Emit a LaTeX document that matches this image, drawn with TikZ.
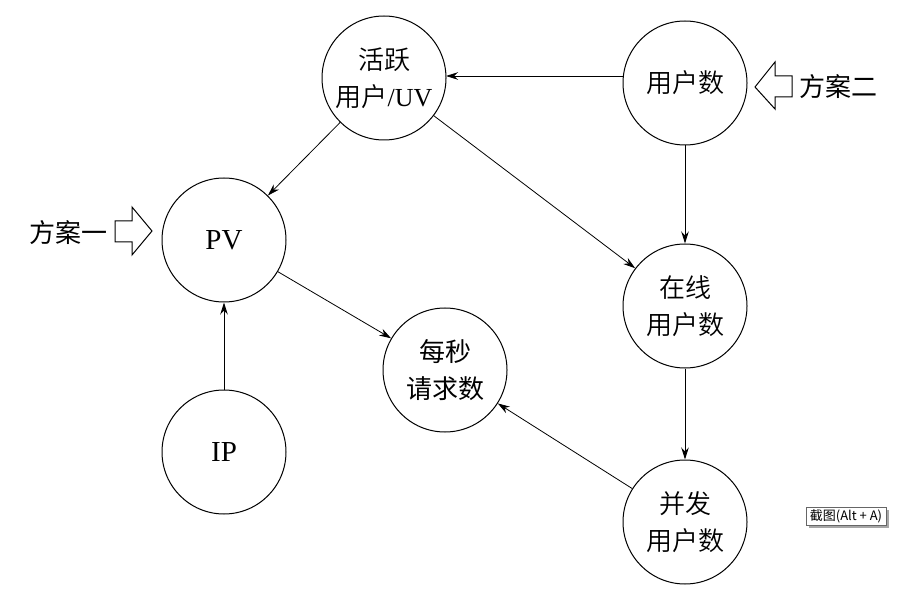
\documentclass[tikz,border=0pt]{standalone}
\usepackage{fontspec}
\setmainfont{Liberation Serif}
\newfontfamily\cjk{Noto Sans CJK SC}
\newfontfamily\cjklight{Noto Sans CJK SC DemiLight}
\newfontfamily\uisans{Noto Sans CJK SC}
\usetikzlibrary{arrows.meta}
\begin{document}
\begin{tikzpicture}[x=1pt,y=-1pt,
  circ/.style={draw,circle,minimum size=124pt,inner sep=0pt,line width=1pt,align=center,font=\fontsize{26}{37}\selectfont},
  conn/.style={line width=0.8pt,-{Stealth[length=12pt,width=7.5pt]}},
  hollow/.style={draw,line width=1pt,fill=white},
  lab/.style={font=\cjk\fontsize{26}{30}\selectfont,inner sep=0pt}]
\useasboundingbox (0,0) rectangle (923,601);
\node[circ] (uv) at (384,78) {{\cjklight 活跃}\\{\cjklight 用户}/UV};
\node[circ] (users) at (685,83) {\cjklight 用户数};
\node[circ,font=\fontsize{29}{37}\selectfont] (pv) at (224,240) {PV};
\node[circ] (online) at (685,306) {{\cjklight 在线}\\{\cjklight 用户数}};
\node[circ] (qps) at (445,370) {{\cjk 每秒}\\{\cjk 请求数}};
\node[circ,font=\fontsize{29}{37}\selectfont] (ip) at (224,452) {IP};
\node[circ] (conc) at (685,522) {{\cjklight 并发}\\{\cjklight 用户数}};
\coordinate (usersW) at (623,76);
\coordinate (uvE) at (446,76);
\draw[conn] (usersW) -- (uvE);
\draw[conn] (uv) -- (pv);
\draw[conn] (uv) -- (online);
\draw[conn] (users) -- (online);
\draw[conn] (pv) -- (qps);
\draw[conn] (ip) -- (pv);
\draw[conn] (online) -- (conc);
\draw[conn] (conc) -- (qps);
% hollow arrows
\draw[hollow] (115,221) -- (132,221) -- (132,207) -- (152,231) -- (132,255) -- (132,242) -- (115,242) -- cycle;
\draw[hollow] (792,76) -- (775,76) -- (775,62) -- (755,87) -- (775,109) -- (775,97) -- (792,97) -- cycle;
\node[lab,anchor=east] (s1) at (108,233) {方案一};
\node[lab,anchor=west] (s2) at (799,87) {方案二};
% tooltip
\fill[black!35] (809,510) rectangle (889,528);
\node[draw=black!60,fill=white,line width=0.6pt,minimum width=80pt,minimum height=18pt,inner sep=0pt,font=\uisans\fontsize{13}{14}\selectfont] (tip) at (846,516) {截图(Alt + A)};
\end{tikzpicture}
\end{document}
